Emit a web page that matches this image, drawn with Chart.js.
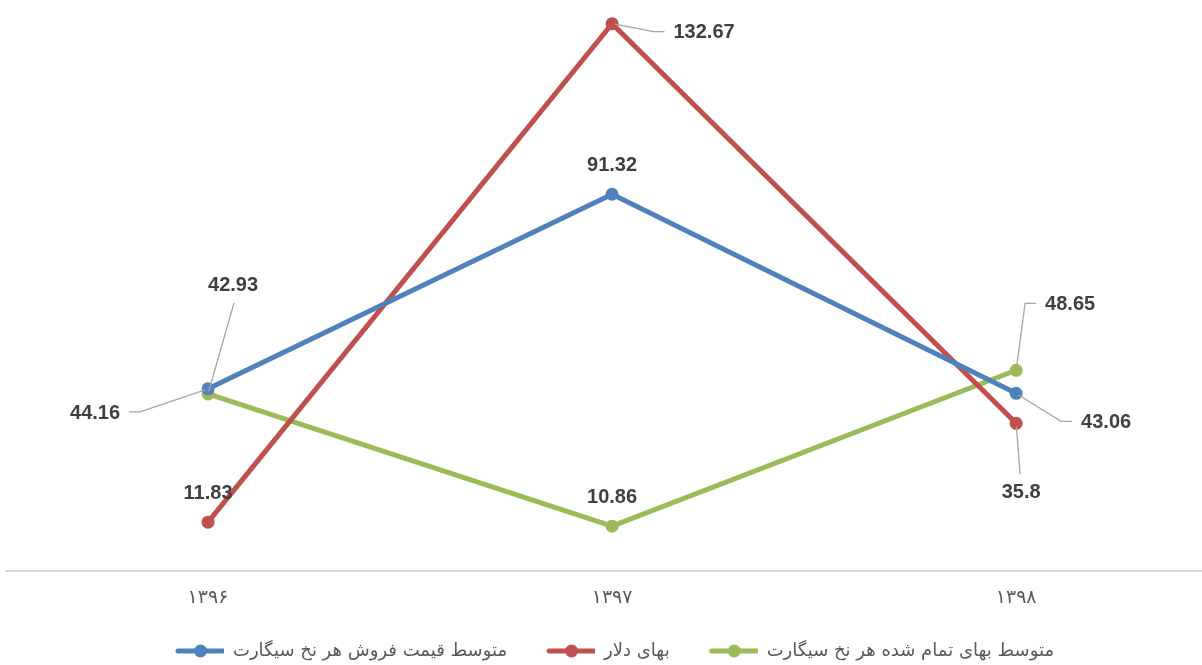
<!DOCTYPE html>
<html>
<head>
<meta charset="utf-8">
<script src="https://cdn.jsdelivr.net/npm/chart.js@4.4.1/dist/chart.umd.min.js"></script>
<style>
  html, body { margin: 0; padding: 0; background: #fff; }
  #wrap { width: 1202px; height: 665px; position: relative; }
</style>
</head>
<body>
<div id="wrap"><canvas id="lineChart"></canvas></div>
<script>
const years = ['۱۳۹۶', '۱۳۹۷', '۱۳۹۸'];
const salePrice = [44.16, 91.32, 43.06];   // متوسط قیمت فروش هر نخ سیگارت
const dollarRate = [11.83, 132.67, 35.8];  // بهای دلار
const costPrice = [42.93, 10.86, 48.65];   // متوسط بهای تمام شده هر نخ سیگارت

const seriesNames = ['متوسط قیمت فروش هر نخ سیگارت', 'بهای دلار', 'متوسط بهای تمام شده هر نخ سیگارت'];
const seriesColors = ['#4f81bd', '#c0504d', '#9bbb59'];

// label placement per series/point: offset from the marker and where the leader line attaches
const labelPlacement = [
    [{ dx: -113, dy: 25, leader: 'right' }, { dx: 0, dy: -29 }, { dx: 90, dy: 29, leader: 'left' }],
    [{ dx: 0, dy: -29 }, { dx: 92, dy: 9, leader: 'left' }, { dx: 5, dy: 69, leader: 'top' }],
    [{ dx: 25, dy: -108, leader: 'bottom' }, { dx: 0, dy: -29 }, { dx: 54, dy: -66, leader: 'left' }]
];

function toPoints(values) {
    return values.map((v, i) => ({ x: i, y: v }));
}

// legend symbol: short line with a marker in the middle (blank strip on the left spaces the items)
function legendSymbol(color) {
    const c = document.createElement('canvas');
    c.width = 70;
    c.height = 14;
    const g = c.getContext('2d');
    g.strokeStyle = color;
    g.lineWidth = 5;
    g.lineCap = 'round';
    g.beginPath();
    g.moveTo(24, 7);
    g.lineTo(69, 7);
    g.stroke();
    g.fillStyle = color;
    g.beginPath();
    g.arc(46.5, 7, 6.5, 0, Math.PI * 2);
    g.fill();
    return c;
}

const valueLabels = {
    id: 'valueLabels',
    afterDatasetsDraw(chart) {
        const ctx = chart.ctx;
        ctx.save();
        ctx.font = 'bold 20px "Liberation Sans", Arial, sans-serif';
        ctx.textAlign = 'center';
        ctx.textBaseline = 'middle';
        chart.data.datasets.forEach((ds, di) => {
            const meta = chart.getDatasetMeta(di);
            meta.data.forEach((pt, i) => {
                const place = labelPlacement[di][i];
                const text = String(ds.data[i].y);
                const cx = pt.x + place.dx;
                const cy = pt.y + place.dy;
                const w = ctx.measureText(text).width;
                const h = 16;
                if (place.leader) {
                    let start, tail;
                    if (place.leader === 'left') {
                        start = [cx - w / 2 - 9, cy - 1];
                        tail = [start[0] - 11, start[1]];
                    } else if (place.leader === 'right') {
                        start = [cx + w / 2 + 9, cy - 2];
                        tail = [start[0] + 11, start[1]];
                    } else if (place.leader === 'bottom') {
                        start = [cx + 1, cy + h / 2 + 9];
                        tail = start;
                    } else {
                        start = [cx - 1, cy - h / 2 - 10];
                        tail = start;
                    }
                    const ang = Math.atan2(tail[1] - pt.y, tail[0] - pt.x);
                    ctx.strokeStyle = '#a6a6a6';
                    ctx.lineWidth = 1.3;
                    ctx.beginPath();
                    ctx.moveTo(start[0], start[1]);
                    ctx.lineTo(tail[0], tail[1]);
                    ctx.lineTo(pt.x + Math.cos(ang) * 3, pt.y + Math.sin(ang) * 3);
                    ctx.stroke();
                }
                ctx.fillStyle = '#404040';
                ctx.fillText(text, cx, cy);
            });
        });
        ctx.restore();
    }
};

const datasets = [salePrice, dollarRate, costPrice].map((vals, i) => ({
    label: seriesNames[i],
    data: toPoints(vals),
    borderColor: seriesColors[i],
    backgroundColor: seriesColors[i],
    borderWidth: 5,
    pointRadius: 6.5,
    pointHoverRadius: 6.5,
    pointBorderWidth: 0,
    pointBackgroundColor: seriesColors[i],
    tension: 0
}));

const symbols = seriesColors.map(legendSymbol);

new Chart(document.getElementById('lineChart'), {
    type: 'line',
    data: { datasets },
    options: {
        responsive: true,
        maintainAspectRatio: false,
        animation: false,
        layout: { autoPadding: false, padding: { left: 6, right: 0, top: 0, bottom: -5 } },
        scales: {
            x: {
                type: 'linear',
                min: -0.5,
                max: 2.46,
                afterBuildTicks: scale => { scale.ticks = years.map((_, i) => ({ value: i })); },
                afterFit: scale => { scale.height = 53; },
                ticks: {
                    callback: v => years[v],
                    color: '#595959',
                    font: { size: 19, family: '"DejaVu Sans", sans-serif' },
                    padding: 16,
                    maxRotation: 0
                },
                grid: { display: false, drawTicks: false },
                border: { display: true, color: '#d9d9d9', width: 2 }
            },
            y: {
                display: false,
                min: 0,
                max: 138.4
            }
        },
        plugins: {
            legend: {
                position: 'bottom',
                labels: {
                    usePointStyle: true,
                    pointStyleWidth: 70,
                    padding: 18,
                    color: '#595959',
                    font: { size: 18, family: '"DejaVu Sans", sans-serif' },
                    generateLabels: chart => {
                        const items = Chart.defaults.plugins.legend.labels.generateLabels(chart);
                        items.forEach((it, i) => { it.pointStyle = symbols[i]; });
                        return items;
                    }
                }
            },
            tooltip: { enabled: false }
        }
    },
    plugins: [valueLabels]
});
</script>
</body>
</html>
